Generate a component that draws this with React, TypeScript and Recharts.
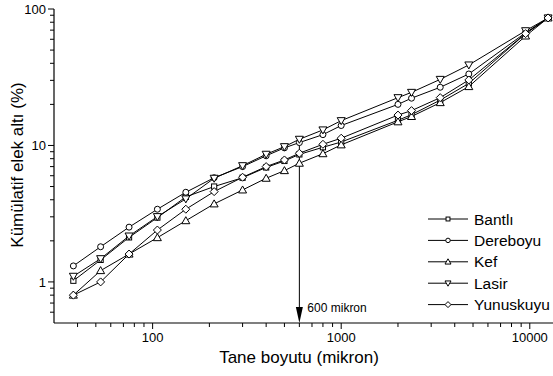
import React from 'react';
import { LineChart, Line, XAxis, YAxis, Legend, ReferenceLine, Customized } from 'recharts';

const sizes = [38, 53, 75, 106, 150, 212, 300, 400, 500, 600, 800, 1000, 2000, 2360, 3350, 4750, 9500, 12500];
const bantli = [1.02, 1.45, 2.12, 2.96, 4.2, 5.0, 5.8, 6.9, 7.7, 8.6, 9.7, 10.6, 15.3, 16.8, 21.5, 28.5, 66, 86];
const dereboyu = [1.31, 1.81, 2.52, 3.41, 4.54, 5.8, 7.0, 8.4, 9.6, 10.5, 12.0, 14.0, 20.0, 22.2, 26.7, 33.4, 67, 86];
const kef = [0.8, 1.21, 1.6, 2.11, 2.81, 3.73, 4.72, 5.75, 6.54, 7.41, 8.7, 10.1, 14.9, 16.3, 20.6, 27.0, 63.4, 86];
const lasir = [1.1, 1.48, 2.17, 3.01, 4.06, 5.75, 7.11, 8.62, 9.8, 11.1, 13.0, 15.2, 22.4, 24.5, 30.5, 38.9, 69.3, 86];
const yunuskuyu = [0.8, 1.0, 1.6, 2.4, 3.41, 4.59, 5.85, 7.0, 7.83, 8.77, 10.2, 11.3, 16.7, 18.0, 22.4, 30.2, 66, 86];

const seriesNames = ['Bantlı', 'Dereboyu', 'Kef', 'Lasir', 'Yunuskuyu'];
const seriesKeys = ['bantli', 'dereboyu', 'kef', 'lasir', 'yunuskuyu'];
const seriesShapes = ['square', 'circle', 'up', 'down', 'diamond'];

const xTicks = [40, 50, 60, 70, 80, 90, 100, 200, 300, 400, 500, 600, 700, 800, 900, 1000, 2000, 3000, 4000, 5000, 6000, 7000, 8000, 9000, 10000];
const yTicks = [0.6, 0.7, 0.8, 0.9, 1, 2, 3, 4, 5, 6, 7, 8, 9, 10, 20, 30, 40, 50, 60, 70, 80, 90, 100];

const xDomain = [30, 15000];
const yDomain = [0.5, 100];
const cutSize = 600;
const cutLabel = '600 mikron';
const xTitle = 'Tane boyutu (mikron)';
const yTitle = 'Kümülatif elek altı (%)';

const rows = sizes.map((s, i) => ({
  x: s,
  bantli: bantli[i],
  dereboyu: dereboyu[i],
  kef: kef[i],
  lasir: lasir[i],
  yunuskuyu: yunuskuyu[i],
}));

const FONT = '"Liberation Sans", Arial, sans-serif';

const isMajor = (v: number) => Math.abs(Math.log10(v) - Math.round(Math.log10(v))) < 1e-9;

function Marker({ shape, cx, cy, s = 1 }: { shape: string; cx: number; cy: number; s?: number }) {
  const common = { fill: '#fff', stroke: '#000', strokeWidth: 1 };
  if (shape === 'square') {
    const h = 2.6 * s;
    return <rect x={cx - h} y={cy - h} width={2 * h} height={2 * h} {...common} />;
  }
  if (shape === 'circle') {
    return <circle cx={cx} cy={cy} r={3 * s} {...common} />;
  }
  if (shape === 'up') {
    const h = 4 * s;
    return <polygon points={`${cx},${cy - h} ${cx + h},${cy + h * 0.75} ${cx - h},${cy + h * 0.75}`} {...common} />;
  }
  if (shape === 'down') {
    const h = 4 * s;
    return <polygon points={`${cx},${cy + h} ${cx + h},${cy - h * 0.75} ${cx - h},${cy - h * 0.75}`} {...common} />;
  }
  const h = 4 * s;
  return <polygon points={`${cx},${cy - h} ${cx + h},${cy} ${cx},${cy + h} ${cx - h},${cy}`} {...common} />;
}

const makeDot = (shape: string) => (props: any) => {
  const { cx, cy, index } = props;
  if (cx == null || cy == null) return <g key={index} />;
  return <Marker key={index} shape={shape} cx={cx} cy={cy} />;
};

const XTickBottom = (props: any) => {
  const { x, y, payload } = props;
  const v = payload.value;
  const major = isMajor(v);
  return (
    <g>
      <line x1={x} y1={y} x2={x} y2={y + (major ? 6 : 4)} stroke="#000" strokeWidth={1} />
      {major && (
        <text x={x} y={y + 19} textAnchor="middle" fontSize={13} fontFamily={FONT} fill="#000">
          {v}
        </text>
      )}
    </g>
  );
};

const XTickTop = (props: any) => {
  const { x, y, payload } = props;
  const major = isMajor(payload.value);
  return <line x1={x} y1={y} x2={x} y2={y + (major ? 5 : 3)} stroke="#000" strokeWidth={1} />;
};

const YTick = (props: any) => {
  const { x, y, payload } = props;
  const v = payload.value;
  const major = isMajor(v);
  return (
    <g>
      <line x1={x} y1={y} x2={x - (major ? 6 : 4)} y2={y} stroke="#000" strokeWidth={1} />
      {major && (
        <text x={x - 8} y={y + 4.7} textAnchor="end" fontSize={13} fontFamily={FONT} fill="#000">
          {v}
        </text>
      )}
    </g>
  );
};

const ArrowShape = (props: any) => {
  const { x1, y1, x2, y2 } = props;
  const tipY = Math.max(y1, y2);
  const topY = Math.min(y1, y2);
  return (
    <g>
      <line x1={x1} y1={topY} x2={x1} y2={tipY - 10} stroke="#000" strokeWidth={1} />
      <polygon points={`${x1},${tipY} ${x1 - 3.5},${tipY - 16} ${x1 + 3.5},${tipY - 16}`} fill="#000" />
      <text x={x1 + 8} y={tipY - 11} fontSize={12} fontFamily={FONT} fill="#000">
        {cutLabel}
      </text>
    </g>
  );
};

const LegendContent = () => (
  <svg width={130} height={110} style={{ display: 'block' }}>
    {seriesNames.map((n, i) => {
      const cy = 8 + i * 21.4;
      return (
        <g key={n}>
          <line x1={0} y1={cy} x2={40} y2={cy} stroke="#000" strokeWidth={1} />
          <Marker shape={seriesShapes[i]} cx={20} cy={cy} s={0.75} />
          <text x={46} y={cy + 5.5} fontSize={15.5} fontFamily={FONT} fill="#000">
            {n}
          </text>
        </g>
      );
    })}
  </svg>
);

const Titles = () => (
  <g>
    <text x={299} y={363} textAnchor="middle" fontSize={17} fontFamily={FONT} fill="#000">
      {xTitle}
    </text>
    <text
      x={23}
      y={165}
      textAnchor="middle"
      fontSize={17}
      fontFamily={FONT}
      fill="#000"
      transform="rotate(-90, 23, 165)"
    >
      {yTitle}
    </text>
  </g>
);

export default function App() {
  return (
    <div style={{ position: 'absolute', left: 0, top: 0, width: 553, height: 376, overflow: 'hidden', background: '#fff' }}>
      <LineChart width={570} height={376} data={rows} margin={{ top: 9, right: 7, bottom: 0, left: 0 }}>
        <XAxis
          dataKey="x"
          type="number"
          scale="log"
          domain={xDomain}
          allowDataOverflow
          ticks={xTicks}
          interval={0}
          height={53}
          tickSize={0}
          tickMargin={0}
          tickLine={false}
          axisLine={{ stroke: '#000', strokeWidth: 1.2 }}
          tick={<XTickBottom />}
        />
        <XAxis
          xAxisId="top"
          dataKey="x"
          orientation="top"
          type="number"
          scale="log"
          domain={xDomain}
          allowDataOverflow
          ticks={xTicks}
          interval={0}
          height={0}
          tickSize={0}
          tickMargin={0}
          tickLine={false}
          axisLine={{ stroke: '#000', strokeWidth: 1.2 }}
          tick={<XTickTop />}
        />
        <YAxis
          type="number"
          scale="log"
          domain={yDomain}
          allowDataOverflow
          ticks={yTicks}
          interval={0}
          width={54}
          tickSize={0}
          tickMargin={0}
          tickLine={false}
          axisLine={{ stroke: '#000', strokeWidth: 1.2 }}
          tick={<YTick />}
        />
        {seriesKeys.map((k, i) => (
          <Line
            key={k}
            dataKey={k}
            name={seriesNames[i]}
            type="linear"
            stroke="#000"
            strokeWidth={1}
            dot={makeDot(seriesShapes[i])}
            activeDot={false}
            isAnimationActive={false}
          />
        ))}
        <ReferenceLine
          segment={[
            { x: cutSize, y: lasir[9] },
            { x: cutSize, y: yDomain[0] },
          ]}
          shape={<ArrowShape />}
          ifOverflow="visible"
        />
        <Legend
          layout="vertical"
          align="center"
          verticalAlign="middle"
          content={<LegendContent />}
          wrapperStyle={{ left: 428, top: 211, width: 130, height: 110 }}
        />
        <Customized component={<Titles />} />
      </LineChart>
    </div>
  );
}
